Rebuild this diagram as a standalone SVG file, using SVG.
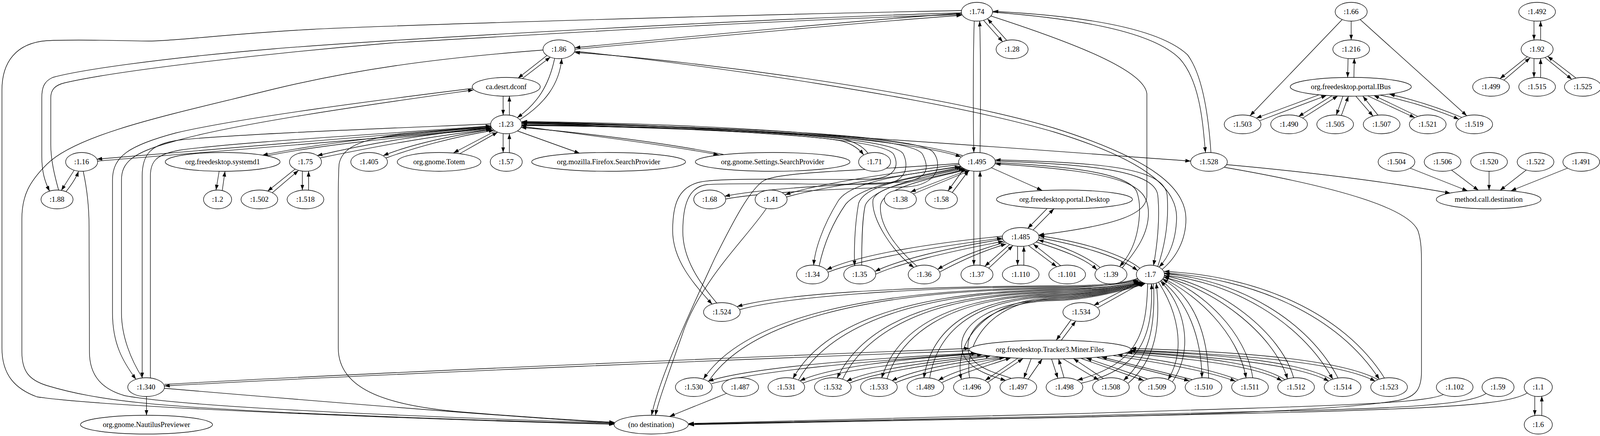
<svg xmlns="http://www.w3.org/2000/svg" width="4819" height="1115" viewBox="0 0 4819 1115">
<style>
.n ellipse{fill:#fff;stroke:#000;stroke-width:1.33}
.n text{font-family:"Liberation Serif","Times New Roman",serif;font-size:18.67px;text-anchor:middle;fill:#000}
#edges path{fill:none;stroke:#000;stroke-width:1.33;marker-end:url(#ah)}
</style>
<defs>
<marker id="ah" viewBox="0 0 14 10" refX="13.5" refY="5" markerWidth="14" markerHeight="10" markerUnits="userSpaceOnUse" orient="auto"><path d="M0,0.3L13.5,5L0,9.7z" fill="#000"/></marker>
</defs>
<rect width="4819" height="1115" fill="#fff"/>
<g id="edges">
<path d="M3459,54 L3459,102"/>
<path d="M3451,149 L3450,198"/>
<path d="M3466,198 L3467,149"/>
<path d="M3436,50 L3200,296"/>
<path d="M3482,50 L3755,296"/>
<path d="M3378,242 L3216,302"/>
<path d="M3224,309 L3396,244"/>
<path d="M3410,245 L3324,298"/>
<path d="M3335,302 L3425,245"/>
<path d="M3438,246 L3421,294"/>
<path d="M3434,295 L3452,246"/>
<path d="M3471,246 L3515,297"/>
<path d="M3528,295 L3489,246"/>
<path d="M3501,245 L3622,301"/>
<path d="M3630,298 L3517,244"/>
<path d="M3532,243 Q3640,265 3735,305"/>
<path d="M3742,300 Q3650,262 3557,241"/>
<path d="M3927,54 L3927,102"/>
<path d="M3944,102 L3944,54"/>
<path d="M3910,145 L3840,201"/>
<path d="M3850,205 L3917,148"/>
<path d="M3927,150 L3927,198"/>
<path d="M3944,198 L3944,150"/>
<path d="M3955,147 L4024,203"/>
<path d="M4035,200 L3962,144"/>
<path d="M4277,54 L4277,102"/>
<path d="M4293,102 L4293,54"/>
<path d="M4247,150 L4190,201"/>
<path d="M4200,205 L4264,150"/>
<path d="M4277,150 L4277,198"/>
<path d="M4293,198 L4293,150"/>
<path d="M4306,150 L4377,201"/>
<path d="M4388,199 L4323,150"/>
<path d="M4625,54 L4625,102"/>
<path d="M4641,102 L4641,54"/>
<path d="M4597,148 L4539,201"/>
<path d="M4549,205 L4611,149"/>
<path d="M4625,150 L4625,198"/>
<path d="M4641,198 L4641,150"/>
<path d="M4656,149 L4725,201"/>
<path d="M4736,199 L4671,147"/>
<path d="M3610,430 L3757,488"/>
<path d="M3716,435 L3785,487"/>
<path d="M3812,438 L3812,486"/>
<path d="M3907,435 L3840,487"/>
<path d="M4013,430 L3868,488"/>
<path d="M3140,421 C3350,440 3550,465 3713,494"/>
<path d="M3135,428 C3350,465 3600,520 3630,590 C3640,620 3639,650 3639,700 L3639,950 C3639,995 3625,1015 3580,1024 C3450,1045 3200,1058 2700,1068 C2300,1075 1900,1083 1763,1086"/>
<path d="M3695,1009 C3660,1025 3550,1033 3200,1044 C2700,1060 2100,1078 1763,1083"/>
<path d="M3805,1006 C3760,1035 3600,1045 3200,1053 C2700,1065 2100,1080 1763,1084"/>
<path d="M3910,1005 C3860,1035 3700,1045 3200,1057 C2700,1068 2100,1082 1763,1085"/>
<path d="M3929,1013 L3929,1062"/>
<path d="M3947,1062 L3947,1013"/>
<path d="M2518,52 L2567,107"/>
<path d="M2577,103 L2528,48"/>
<path d="M2494,54 C2491,150 2491,300 2493,390"/>
<path d="M2509,390 C2510,300 2511,150 2508,54"/>
<path d="M2541,31 C2760,48 2950,80 3020,150 C3075,210 3080,330 3086,390"/>
<path d="M3100,390 C3096,330 3085,200 3040,140 C2965,70 2760,40 2542,29"/>
<path d="M2537,41 C2750,110 2930,180 2936,240 L2936,500 C2936,545 2870,575 2659,601"/>
<path d="M2461,33 C2000,45 1000,100 700,125 C400,150 200,180 135,198 C112,208 107,225 107,250 L107,400 C107,440 115,465 127,489"/>
<path d="M150,486 C140,450 130,410 130,370 L130,250 C130,230 140,218 165,212 C300,180 700,135 1000,110 C1600,75 2000,52 2462,37"/>
<path d="M2461,27 C1800,40 1000,65 800,75 C600,85 450,105 380,105 C300,104 200,100 120,104 C40,110 5,160 5,230 L5,890 C5,960 40,995 95,1015 C300,1045 1200,1076 1573,1085"/>
<path d="M2462,34 C2200,52 1800,90 1472,122"/>
<path d="M1472,126 C1800,96 2200,58 2462,39"/>
<path d="M1472,131 C1800,165 2400,250 2700,338 C2950,415 3015,490 3012,560 C3010,620 2990,660 2967,683"/>
<path d="M2975,689 C3010,660 3036,615 3036,560 C3036,485 2960,410 2700,328 C2400,238 1800,157 1471,134"/>
<path d="M1400,142 L1326,200"/>
<path d="M1337,201 L1409,146"/>
<path d="M1420,149 C1405,220 1375,265 1324,301"/>
<path d="M1331,306 C1395,265 1432,215 1438,150"/>
<path d="M1390,128 C1100,150 900,180 700,228 C450,290 200,340 120,420 C75,465 56,500 56,560 L56,900 C56,950 75,972 120,986 C250,1025 400,1040 800,1058 C1200,1074 1450,1081 1573,1084"/>
<path d="M1288,246 L1288,294"/>
<path d="M1304,294 L1304,246"/>
<path d="M1210,226 C1000,252 620,300 450,340 C330,372 288,400 288,460 L288,800 C288,880 315,925 348,970"/>
<path d="M365,967 C335,920 311,860 311,800 L311,460 C311,415 340,390 440,363 C600,315 1000,260 1212,230"/>
<path d="M1256,317 C1000,328 620,342 460,358 C385,368 364,395 364,450 L364,966"/>
<path d="M385,967 L385,450 C385,412 400,395 460,384 C620,362 1000,342 1257,322"/>
<path d="M1257,323 C1000,345 500,385 248,407"/>
<path d="M250,412 C500,391 1000,352 1257,327"/>
<path d="M1257,325 C1000,345 800,370 672,397"/>
<path d="M682,399 C800,374 1000,352 1258,329"/>
<path d="M1257,327 C1100,342 950,365 812,398"/>
<path d="M819,404 C950,377 1100,348 1258,331"/>
<path d="M1259,331 C1150,348 1050,370 981,398"/>
<path d="M988,404 C1060,378 1160,350 1265,333"/>
<path d="M1268,335 L1161,391"/>
<path d="M1177,393 L1274,338"/>
<path d="M1288,342 L1288,390"/>
<path d="M1304,390 L1304,342"/>
<path d="M1325,335 L1484,392"/>
<path d="M1335,323 C1500,345 1700,370 1840,396"/>
<path d="M1852,395 C1700,365 1500,340 1334,326"/>
<path d="M1336,316 C1700,324 2100,345 2160,362 C2185,370 2200,382 2211,396"/>
<path d="M2222,392 C2210,375 2185,360 2150,354 C2000,338 1700,318 1336,313"/>
<path d="M1336,315 C1800,320 2300,350 2460,401"/>
<path d="M2464,398 C2300,345 1800,316 1336,311"/>
<path d="M1336,312 C1800,318 2400,365 3048,412"/>
<path d="M1336,320 C1900,328 2265,355 2288,395 C2305,430 2285,455 2230,458 C2100,462 1850,452 1790,466 C1735,480 1722,525 1722,590 C1722,665 1775,725 1823,778"/>
<path d="M1835,775 C1790,722 1748,662 1748,592 C1748,530 1760,478 1810,472 C1900,466 2160,474 2262,470 C2320,466 2328,425 2312,393 C2285,352 1900,326 1334,321"/>
<path d="M1336,319 C1950,326 2340,352 2362,395 C2385,440 2365,462 2300,466 C2150,472 1950,482 1855,502"/>
<path d="M1857,509 C1950,492 2150,482 2320,478 C2400,474 2415,420 2388,388 C2345,350 1950,324 1336,316"/>
<path d="M1258,327 C1000,340 880,350 868,420 C865,460 866,520 866,600 L866,890 C866,1000 1000,1040 1200,1055 C1350,1067 1480,1075 1573,1080"/>
<path d="M756,432 L685,489"/>
<path d="M697,493 L764,436"/>
<path d="M774,438 L774,486"/>
<path d="M790,486 L790,438"/>
<path d="M561,438 L553,486"/>
<path d="M569,487 L576,438"/>
<path d="M190,435 L157,487"/>
<path d="M169,490 C185,470 195,455 201,438"/>
<path d="M213,438 C220,470 228,520 228,580 L229,900 C229,960 260,995 320,1012 C500,1045 1200,1070 1573,1082"/>
<path d="M421,993 C800,1025 1300,1065 1573,1082"/>
<path d="M2538,429 L2668,487"/>
<path d="M2468,431 L2427,488"/>
<path d="M2438,492 L2480,436"/>
<path d="M2477,435 L2331,491"/>
<path d="M2338,496 L2483,436"/>
<path d="M2456,421 C2300,440 2100,468 2010,498"/>
<path d="M2013,504 C2100,478 2300,450 2458,426"/>
<path d="M2455,418 C2200,438 2000,438 1955,462 C1920,485 1880,560 1830,660 C1770,790 1690,960 1668,1062"/>
<path d="M1962,533 C1910,610 1790,720 1745,860 C1710,960 1684,1030 1678,1062"/>
<path d="M2459,425 C2300,450 2175,465 2145,515 C2105,580 2086,640 2083,678"/>
<path d="M2097,680 C2110,620 2135,565 2165,522 C2210,470 2350,452 2462,427"/>
<path d="M2465,429 C2330,458 2215,470 2198,520 C2188,575 2186,640 2188,680"/>
<path d="M2206,678 C2206,620 2207,560 2215,525 C2235,480 2350,455 2468,431"/>
<path d="M2471,432 C2380,460 2250,470 2235,510 C2228,560 2290,650 2340,684"/>
<path d="M2350,683 C2300,640 2250,580 2254,525 C2262,478 2380,458 2474,434"/>
<path d="M2493,438 L2493,678"/>
<path d="M2509,678 L2509,438"/>
<path d="M2548,416 C2750,425 2890,445 2910,490 C2925,530 2915,600 2895,640 C2885,660 2875,672 2866,682"/>
<path d="M2873,685 C2900,650 2940,605 2940,545 C2940,475 2890,440 2548,419"/>
<path d="M2548,412 C2810,420 2958,440 2964,500 C2970,560 2962,630 2953,679"/>
<path d="M2964,681 C2985,620 2992,560 2988,500 C2982,435 2850,415 2548,409"/>
<path d="M2566,604 C2400,620 2200,650 2116,690"/>
<path d="M2120,696 C2200,664 2400,630 2566,609"/>
<path d="M2567,612 C2420,635 2300,665 2240,694"/>
<path d="M2242,701 C2300,675 2420,645 2569,617"/>
<path d="M2572,620 C2500,640 2440,665 2400,689"/>
<path d="M2405,696 C2450,672 2510,643 2576,624"/>
<path d="M2585,625 L2521,681"/>
<path d="M2531,686 L2593,628"/>
<path d="M2605,630 L2605,678"/>
<path d="M2621,678 L2621,630"/>
<path d="M2633,628 L2705,682"/>
<path d="M2716,680 L2645,624"/>
<path d="M2653,619 C2720,640 2780,662 2808,690"/>
<path d="M2816,684 C2780,655 2720,628 2658,614"/>
<path d="M2660,608 C2780,630 2870,660 2912,692"/>
<path d="M2918,686 C2875,652 2780,620 2660,603"/>
<path d="M2680,534 L2631,584"/>
<path d="M2645,588 L2698,534"/>
<path d="M2920,719 L2800,781"/>
<path d="M2810,787 L2926,722"/>
<path d="M2742,818 L2704,870"/>
<path d="M2717,870 L2754,821"/>
<path d="M2912,712 C2872,727 2780,731 2700,731 C2300,733 2000,752 1887,784"/>
<path d="M1893,792 C2000,762 2300,735 2700,733.5 C2780,733.5 2874,729 2914,716"/>
<path d="M2913,713 C2873,728 2780,736 2700,736 C2200,740 1900,820 1801,969"/>
<path d="M1814,975 C1910,830 2200,742 2700,738.5 C2780,738.5 2875,733 2915,718"/>
<path d="M2916,718 C2876,733 2780,741 2700,741 C2300,746 2100,840 2030,968"/>
<path d="M2044,972 C2115,848 2310,748 2700,743.5 C2780,743.5 2878,735 2918,720"/>
<path d="M2919,720 C2879,735 2780,746 2700,746 C2350,752 2200,850 2143,967"/>
<path d="M2157,970 C2212,858 2360,754 2700,748.5 C2780,748.5 2881,736 2921,721"/>
<path d="M2922,721 C2882,736 2780,751 2700,751 C2400,758 2290,860 2257,967"/>
<path d="M2271,968 C2303,868 2410,760 2700,753.5 C2780,753.5 2884,737 2924,722"/>
<path d="M2925,722 C2885,737 2780,756 2700,756 C2450,762 2380,870 2365,967"/>
<path d="M2380,967 C2395,875 2460,765 2700,758.5 C2780,758.5 2887,738 2927,723"/>
<path d="M2927,723 C2887,738 2780,761 2700,761 C2520,765 2440,880 2461,970"/>
<path d="M2482,966 C2468,885 2530,768 2700,763.5 C2780,763.5 2890,739 2930,724"/>
<path d="M2929,724 C2889,739 2780,766 2700,766 C2540,768 2455,830 2462,890 C2468,940 2530,960 2575,973"/>
<path d="M2588,967 C2540,952 2482,935 2478,892 C2472,830 2560,770 2700,768.5 C2780,768.5 2892,740 2932,725"/>
<path d="M2938,726 C2935,850 2915,930 2758,972"/>
<path d="M2768,980 C2920,945 2952,860 2948,726"/>
<path d="M2953,725 C2958,830 2945,910 2876,973"/>
<path d="M2888,980 C2960,920 2972,830 2960,724"/>
<path d="M2966,722 C3010,790 3040,890 2990,971"/>
<path d="M3001,977 C3060,890 3030,780 2971,719"/>
<path d="M2973,717 C3040,770 3075,860 3077,966"/>
<path d="M3094,967 C3092,860 3060,760 2976,714"/>
<path d="M2977,712 C3060,750 3170,850 3190,967"/>
<path d="M3207,966 C3190,850 3080,745 2979,708"/>
<path d="M2979,709 C3100,735 3260,850 3296,969"/>
<path d="M3312,967 C3280,850 3120,730 2980,705"/>
<path d="M2980,704 C3150,720 3330,820 3412,970"/>
<path d="M3426,968 C3350,820 3170,715 2981,700"/>
<path d="M2981,698 C3200,712 3420,800 3531,970"/>
<path d="M3545,968 C3440,800 3220,705 2980,694"/>
<path d="M2482,897 C2000,915 1000,955 421,987"/>
<path d="M421,983 C1000,950 2000,910 2482,891"/>
<path d="M2497,903 C2200,918 1920,940 1813,975"/>
<path d="M1822,981 C1950,948 2200,925 2500,904"/>
<path d="M2505,905 C2300,918 2120,940 2048,974"/>
<path d="M2055,980 C2130,950 2300,928 2515,907"/>
<path d="M2530,909 C2380,925 2230,945 2167,975"/>
<path d="M2174,980 C2240,953 2380,932 2537,910"/>
<path d="M2560,913 C2420,930 2330,950 2283,974"/>
<path d="M2290,980 C2340,958 2430,938 2572,914"/>
<path d="M2575,914 C2500,935 2440,950 2402,973"/>
<path d="M2410,979 C2460,955 2520,938 2588,915"/>
<path d="M2606,916 L2522,973"/>
<path d="M2528,978 L2619,917"/>
<path d="M2640,917 L2621,967"/>
<path d="M2632,970 L2668,918"/>
<path d="M2692,918 L2708,967"/>
<path d="M2724,966 L2710,918"/>
<path d="M2722,918 L2813,972"/>
<path d="M2826,969 L2748,917"/>
<path d="M2766,916 L2928,973"/>
<path d="M2937,969 L2781,916"/>
<path d="M2808,914 L3045,974"/>
<path d="M3053,971 L2820,913"/>
<path d="M2849,909 C2950,925 3080,945 3163,975"/>
<path d="M3171,972 C3090,940 2960,918 2860,907"/>
<path d="M2880,903 C3080,920 3220,938 3282,974"/>
<path d="M3291,972 C3230,932 3090,912 2885,901"/>
<path d="M2890,899 C3150,915 3330,935 3402,975"/>
<path d="M3411,972 C3340,928 3150,907 2893,897"/>
<path d="M2894,895 C3200,908 3430,928 3521,975"/>
<path d="M3530,972 C3440,922 3200,900 2895,891"/>
<path d="M375,1014 L375,1062"/>
<path d="M1860,1006 L1714,1065"/>
</g>
<g id="nodes">
<g class="n" id="n_1_74"><ellipse cx="2501" cy="30" rx="40" ry="24"/><text x="2501" y="36">:1.74</text></g>
<g class="n" id="n_1_66"><ellipse cx="3459" cy="30" rx="41" ry="24"/><text x="3459" y="36">:1.66</text></g>
<g class="n" id="n_1_492"><ellipse cx="3935" cy="30" rx="47" ry="24"/><text x="3935" y="36">:1.492</text></g>
<g class="n" id="n_1_493"><ellipse cx="4285" cy="30" rx="47" ry="24"/><text x="4285" y="36">:1.493</text></g>
<g class="n" id="n_1_494"><ellipse cx="4633" cy="30" rx="47" ry="24"/><text x="4633" y="36">:1.494</text></g>
<g class="n" id="n_1_86"><ellipse cx="1431" cy="126" rx="41" ry="24"/><text x="1431" y="132">:1.86</text></g>
<g class="n" id="n_1_28"><ellipse cx="2591" cy="126" rx="41" ry="24"/><text x="2591" y="132">:1.28</text></g>
<g class="n" id="n_1_216"><ellipse cx="3459" cy="126" rx="47" ry="24"/><text x="3459" y="132">:1.216</text></g>
<g class="n" id="n_1_92"><ellipse cx="3935" cy="126" rx="41" ry="24"/><text x="3935" y="132">:1.92</text></g>
<g class="n" id="n_documents"><ellipse cx="4284" cy="126" rx="186" ry="24"/><text x="4284" y="132">org.freedesktop.portal.Documents</text></g>
<g class="n" id="n_a11y"><ellipse cx="4633" cy="126" rx="82" ry="24"/><text x="4633" y="132">org.a11y.Bus</text></g>
<g class="n" id="n_dconf"><ellipse cx="1296" cy="222" rx="87" ry="24"/><text x="1296" y="228">ca.desrt.dconf</text></g>
<g class="n" id="n_ibus"><ellipse cx="3458" cy="222" rx="155" ry="24"/><text x="3458" y="228">org.freedesktop.portal.IBus</text></g>
<g class="n" id="n_1_499"><ellipse cx="3817" cy="222" rx="47" ry="24"/><text x="3817" y="228">:1.499</text></g>
<g class="n" id="n_1_515"><ellipse cx="3935" cy="222" rx="47" ry="24"/><text x="3935" y="228">:1.515</text></g>
<g class="n" id="n_1_525"><ellipse cx="4052" cy="222" rx="47" ry="24"/><text x="4052" y="228">:1.525</text></g>
<g class="n" id="n_1_500"><ellipse cx="4168" cy="222" rx="47" ry="24"/><text x="4168" y="228">:1.500</text></g>
<g class="n" id="n_1_516"><ellipse cx="4285" cy="222" rx="47" ry="24"/><text x="4285" y="228">:1.516</text></g>
<g class="n" id="n_1_526"><ellipse cx="4400" cy="222" rx="47" ry="24"/><text x="4400" y="228">:1.526</text></g>
<g class="n" id="n_1_501"><ellipse cx="4516" cy="222" rx="47" ry="24"/><text x="4516" y="228">:1.501</text></g>
<g class="n" id="n_1_517"><ellipse cx="4633" cy="222" rx="47" ry="24"/><text x="4633" y="228">:1.517</text></g>
<g class="n" id="n_1_527"><ellipse cx="4748" cy="222" rx="47" ry="24"/><text x="4748" y="228">:1.527</text></g>
<g class="n" id="n_1_23"><ellipse cx="1296" cy="318" rx="40" ry="24"/><text x="1296" y="324">:1.23</text></g>
<g class="n" id="n_1_503"><ellipse cx="3181" cy="318" rx="47" ry="24"/><text x="3181" y="324">:1.503</text></g>
<g class="n" id="n_1_490"><ellipse cx="3300" cy="318" rx="47" ry="24"/><text x="3300" y="324">:1.490</text></g>
<g class="n" id="n_1_505"><ellipse cx="3418" cy="318" rx="47" ry="24"/><text x="3418" y="324">:1.505</text></g>
<g class="n" id="n_1_507"><ellipse cx="3537" cy="318" rx="47" ry="24"/><text x="3537" y="324">:1.507</text></g>
<g class="n" id="n_1_521"><ellipse cx="3655" cy="318" rx="47" ry="24"/><text x="3655" y="324">:1.521</text></g>
<g class="n" id="n_1_519"><ellipse cx="3774" cy="318" rx="47" ry="24"/><text x="3774" y="324">:1.519</text></g>
<g class="n" id="n_1_16"><ellipse cx="209" cy="414" rx="41" ry="24"/><text x="209" y="420">:1.16</text></g>
<g class="n" id="n_systemd1"><ellipse cx="570" cy="414" rx="147" ry="24"/><text x="570" y="420">org.freedesktop.systemd1</text></g>
<g class="n" id="n_1_75"><ellipse cx="782" cy="414" rx="41" ry="24"/><text x="782" y="420">:1.75</text></g>
<g class="n" id="n_1_405"><ellipse cx="945" cy="414" rx="47" ry="24"/><text x="945" y="420">:1.405</text></g>
<g class="n" id="n_totem"><ellipse cx="1124" cy="414" rx="107" ry="24"/><text x="1124" y="420">org.gnome.Totem</text></g>
<g class="n" id="n_1_57"><ellipse cx="1296" cy="414" rx="41" ry="24"/><text x="1296" y="420">:1.57</text></g>
<g class="n" id="n_firefox"><ellipse cx="1558" cy="414" rx="197" ry="24"/><text x="1558" y="420">org.mozilla.Firefox.SearchProvider</text></g>
<g class="n" id="n_settings"><ellipse cx="1978" cy="414" rx="198" ry="24"/><text x="1978" y="420">org.gnome.Settings.SearchProvider</text></g>
<g class="n" id="n_1_71"><ellipse cx="2239" cy="414" rx="41" ry="24"/><text x="2239" y="420">:1.71</text></g>
<g class="n" id="n_1_495"><ellipse cx="2501" cy="414" rx="47" ry="24"/><text x="2501" y="420">:1.495</text></g>
<g class="n" id="n_1_528"><ellipse cx="3095" cy="414" rx="47" ry="24"/><text x="3095" y="420">:1.528</text></g>
<g class="n" id="n_1_504"><ellipse cx="3575" cy="414" rx="47" ry="24"/><text x="3575" y="420">:1.504</text></g>
<g class="n" id="n_1_506"><ellipse cx="3693" cy="414" rx="47" ry="24"/><text x="3693" y="420">:1.506</text></g>
<g class="n" id="n_1_520"><ellipse cx="3812" cy="414" rx="47" ry="24"/><text x="3812" y="420">:1.520</text></g>
<g class="n" id="n_1_522"><ellipse cx="3931" cy="414" rx="47" ry="24"/><text x="3931" y="420">:1.522</text></g>
<g class="n" id="n_1_491"><ellipse cx="4048" cy="414" rx="47" ry="24"/><text x="4048" y="420">:1.491</text></g>
<g class="n" id="n_1_88"><ellipse cx="146" cy="510" rx="41" ry="24"/><text x="146" y="516">:1.88</text></g>
<g class="n" id="n_1_2"><ellipse cx="557" cy="510" rx="36" ry="24"/><text x="557" y="516">:1.2</text></g>
<g class="n" id="n_1_502"><ellipse cx="664" cy="510" rx="47" ry="24"/><text x="664" y="516">:1.502</text></g>
<g class="n" id="n_1_518"><ellipse cx="782" cy="510" rx="47" ry="24"/><text x="782" y="516">:1.518</text></g>
<g class="n" id="n_1_68"><ellipse cx="1817" cy="510" rx="41" ry="24"/><text x="1817" y="516">:1.68</text></g>
<g class="n" id="n_1_41"><ellipse cx="1974" cy="510" rx="41" ry="24"/><text x="1974" y="516">:1.41</text></g>
<g class="n" id="n_1_38"><ellipse cx="2305" cy="510" rx="41" ry="24"/><text x="2305" y="516">:1.38</text></g>
<g class="n" id="n_1_58"><ellipse cx="2410" cy="510" rx="41" ry="24"/><text x="2410" y="516">:1.58</text></g>
<g class="n" id="n_desktop"><ellipse cx="2725" cy="510" rx="174" ry="24"/><text x="2725" y="516">org.freedesktop.portal.Desktop</text></g>
<g class="n" id="n_mcd"><ellipse cx="3811" cy="510" rx="134" ry="24"/><text x="3811" y="516">method.call.destination</text></g>
<g class="n" id="n_1_485"><ellipse cx="2613" cy="606" rx="47" ry="24"/><text x="2613" y="612">:1.485</text></g>
<g class="n" id="n_1_34"><ellipse cx="2080" cy="702" rx="41" ry="24"/><text x="2080" y="708">:1.34</text></g>
<g class="n" id="n_1_35"><ellipse cx="2201" cy="702" rx="41" ry="24"/><text x="2201" y="708">:1.35</text></g>
<g class="n" id="n_1_36"><ellipse cx="2366" cy="702" rx="41" ry="24"/><text x="2366" y="708">:1.36</text></g>
<g class="n" id="n_1_37"><ellipse cx="2501" cy="702" rx="41" ry="24"/><text x="2501" y="708">:1.37</text></g>
<g class="n" id="n_1_110"><ellipse cx="2613" cy="702" rx="47" ry="24"/><text x="2613" y="708">:1.110</text></g>
<g class="n" id="n_1_101"><ellipse cx="2732" cy="702" rx="47" ry="24"/><text x="2732" y="708">:1.101</text></g>
<g class="n" id="n_1_39"><ellipse cx="2844" cy="702" rx="41" ry="24"/><text x="2844" y="708">:1.39</text></g>
<g class="n" id="n_1_7"><ellipse cx="2945" cy="702" rx="36" ry="24"/><text x="2945" y="708">:1.7</text></g>
<g class="n" id="n_1_524"><ellipse cx="1848" cy="798" rx="47" ry="24"/><text x="1848" y="804">:1.524</text></g>
<g class="n" id="n_1_534"><ellipse cx="2768" cy="798" rx="47" ry="24"/><text x="2768" y="804">:1.534</text></g>
<g class="n" id="n_tracker"><ellipse cx="2688" cy="894" rx="207" ry="24"/><text x="2688" y="900">org.freedesktop.Tracker3.Miner.Files</text></g>
<g class="n" id="n_1_340"><ellipse cx="374" cy="990" rx="47" ry="24"/><text x="374" y="996">:1.340</text></g>
<g class="n" id="n_1_530"><ellipse cx="1776" cy="990" rx="47" ry="24"/><text x="1776" y="996">:1.530</text></g>
<g class="n" id="n_1_487"><ellipse cx="1895" cy="990" rx="47" ry="24"/><text x="1895" y="996">:1.487</text></g>
<g class="n" id="n_1_531"><ellipse cx="2013" cy="990" rx="47" ry="24"/><text x="2013" y="996">:1.531</text></g>
<g class="n" id="n_1_532"><ellipse cx="2132" cy="990" rx="47" ry="24"/><text x="2132" y="996">:1.532</text></g>
<g class="n" id="n_1_533"><ellipse cx="2250" cy="990" rx="47" ry="24"/><text x="2250" y="996">:1.533</text></g>
<g class="n" id="n_1_489"><ellipse cx="2369" cy="990" rx="47" ry="24"/><text x="2369" y="996">:1.489</text></g>
<g class="n" id="n_1_496"><ellipse cx="2488" cy="990" rx="47" ry="24"/><text x="2488" y="996">:1.496</text></g>
<g class="n" id="n_1_497"><ellipse cx="2607" cy="990" rx="47" ry="24"/><text x="2607" y="996">:1.497</text></g>
<g class="n" id="n_1_498"><ellipse cx="2725" cy="990" rx="47" ry="24"/><text x="2725" y="996">:1.498</text></g>
<g class="n" id="n_1_508"><ellipse cx="2844" cy="990" rx="47" ry="24"/><text x="2844" y="996">:1.508</text></g>
<g class="n" id="n_1_509"><ellipse cx="2962" cy="990" rx="47" ry="24"/><text x="2962" y="996">:1.509</text></g>
<g class="n" id="n_1_510"><ellipse cx="3081" cy="990" rx="47" ry="24"/><text x="3081" y="996">:1.510</text></g>
<g class="n" id="n_1_511"><ellipse cx="3200" cy="990" rx="47" ry="24"/><text x="3200" y="996">:1.511</text></g>
<g class="n" id="n_1_512"><ellipse cx="3318" cy="990" rx="47" ry="24"/><text x="3318" y="996">:1.512</text></g>
<g class="n" id="n_1_514"><ellipse cx="3437" cy="990" rx="47" ry="24"/><text x="3437" y="996">:1.514</text></g>
<g class="n" id="n_1_523"><ellipse cx="3556" cy="990" rx="47" ry="24"/><text x="3556" y="996">:1.523</text></g>
<g class="n" id="n_1_102"><ellipse cx="3724" cy="990" rx="47" ry="24"/><text x="3724" y="996">:1.102</text></g>
<g class="n" id="n_1_59"><ellipse cx="3835" cy="990" rx="41" ry="24"/><text x="3835" y="996">:1.59</text></g>
<g class="n" id="n_1_1"><ellipse cx="3938" cy="990" rx="36" ry="24"/><text x="3938" y="996">:1.1</text></g>
<g class="n" id="n_nautilus"><ellipse cx="375" cy="1086" rx="169" ry="24"/><text x="375" y="1092">org.gnome.NautilusPreviewer</text></g>
<g class="n" id="n_nodest"><ellipse cx="1667" cy="1086" rx="95" ry="24"/><text x="1667" y="1092">(no destination)</text></g>
<g class="n" id="n_1_6"><ellipse cx="3938" cy="1086" rx="36" ry="24"/><text x="3938" y="1092">:1.6</text></g>
</g>
</svg>
